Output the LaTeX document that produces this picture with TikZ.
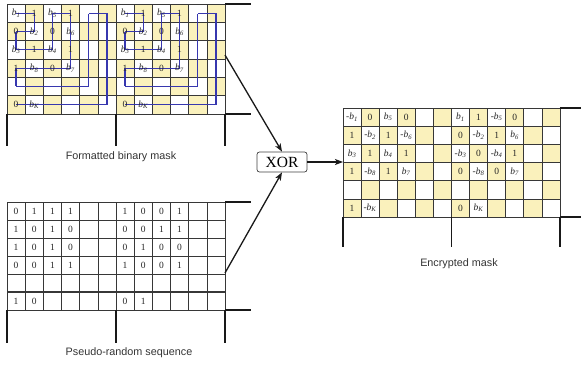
\documentclass[tikz,border=0pt]{standalone}
\usepackage{fontspec}
\setmainfont{Liberation Serif}
\newfontfamily\labelfont{Liberation Sans}
\usetikzlibrary{arrows.meta}
\definecolor{cellyellow}{RGB}{250,241,188}
\definecolor{gridcol}{RGB}{55,55,55}
\definecolor{pathblue}{RGB}{55,55,175}
\newcommand\bb[1]{\textit{b}\textsubscript{\textit{#1}}}
\newcommand\nb[1]{-\textit{b}\textsubscript{\textit{#1}}}
\tikzset{
  gridln/.style={draw=gridcol,line width=0.7pt},
  thickln/.style={draw=gridcol,line width=1.1pt},
  extln/.style={draw=black!90,line width=1.1pt,dash pattern=on 0.5pt off 0.5pt},
  cell/.style={inner sep=0pt,font=\fontsize{9.5}{11}\selectfont,text=black!85},
  bluepath/.style={draw=pathblue,line width=1.3pt,dash pattern=on 0.5pt off 0.5pt,line join=miter},
  lab/.style={inner sep=0pt,font=\labelfont\fontsize{10.8}{13}\selectfont,text=black!80},
  arr/.style={line width=1.3pt,draw=black!90,-{Stealth[length=8pt,width=6pt,inset=2pt]}},
  xorbox/.style={draw=black!75,line width=0.7pt,rounded corners=2.5pt,minimum width=50pt,minimum height=20pt,inner sep=0pt,font=\fontsize{15.5}{17}\selectfont,fill=white}
}
\begin{document}
\begin{tikzpicture}[x=1pt,y=-1pt]
\useasboundingbox (0,0) rectangle (581,367);

% ---------- Formatted binary mask ----------
\begin{scope}[xshift=7pt,yshift=-4pt,x=18.17pt,y=-18.33pt]
  \foreach \c in {0,...,11}{\foreach \r in {0,...,5}{
    \pgfmathtruncatemacro\parity{mod(\c+\r,2)}
    \ifnum\parity=1 \fill[cellyellow] (\c,\r) rectangle ++(1,1); \fi
  }}
  \foreach \c in {0,...,12} \draw[gridln] (\c,0) -- (\c,6);
  \foreach \r in {0,...,6} \draw[gridln] (0,\r) -- (12,\r);
  \foreach \c in {0,6,12} \draw[extln] (\c,6) -- (\c,7.7);
  \draw[extln] (12,0) -- (13.4,0);
  \draw[extln] (12,6) -- (13.4,6);
  \foreach \o in {0,6}{
    \draw[bluepath] (\o+0.5,0.5) -- (\o+1.5,0.5) -- (\o+1.5,1.5) -- (\o+0.5,1.5) -- (\o+0.5,2.5)
      -- (\o+2.5,2.5) -- (\o+2.5,0.5) -- (\o+3.5,0.5) -- (\o+3.5,3.5) -- (\o+0.5,3.5)
      -- (\o+0.5,4.5) -- (\o+4.5,4.5) -- (\o+4.5,0.5) -- (\o+5.5,0.5) -- (\o+5.5,5.5) -- (\o+0.5,5.5);
    \foreach \c/\r/\t in {0/0/{\bb1},1/0/1,2/0/{\bb5},3/0/1,
                          0/1/0,1/1/{\bb2},2/1/0,3/1/{\bb6},
                          0/2/{\bb3},1/2/1,2/2/{\bb4},3/2/1,
                          0/3/1,1/3/{\bb8},2/3/0,3/3/{\bb7},
                          0/5/0,1/5/{\bb{K}}}
      \node[cell] (f\o-\c-\r) at (\o+\c+0.5,\r+0.5) {\t};
  }
\end{scope}
\node[lab] (masklabel) at (121,157) {Formatted binary mask};

% ---------- Pseudo-random sequence ----------
\begin{scope}[xshift=7pt,yshift=-202pt,x=18.17pt,y=-18pt]
  \foreach \c in {0,...,12} \draw[gridln] (\c,0) -- (\c,6);
  \foreach \r in {0,1,2,3,4,6} \draw[gridln] (0,\r) -- (12,\r);
  \draw[thickln] (0,5) -- (12,5);
  \foreach \c in {0,6,12} \draw[extln] (\c,6) -- (\c,7.8);
  \draw[extln] (12,0) -- (13.4,0);
  \draw[extln] (12,6) -- (13.4,6);
  \foreach \c/\r/\t in {0/0/0,1/0/1,2/0/1,3/0/1, 6/0/1,7/0/0,8/0/0,9/0/1,
                        0/1/1,1/1/0,2/1/1,3/1/0, 6/1/0,7/1/0,8/1/1,9/1/1,
                        0/2/1,1/2/0,2/2/1,3/2/0, 6/2/0,7/2/1,8/2/0,9/2/0,
                        0/3/0,1/3/0,2/3/1,3/3/1, 6/3/1,7/3/0,8/3/0,9/3/1,
                        0/5/1,1/5/0, 6/5/0,7/5/1}
    \node[cell] (p\c-\r) at (\c+0.5,\r+0.5) {\t};
\end{scope}
\node[lab] (prslabel) at (129,353) {Pseudo-random sequence};

% ---------- Encrypted mask ----------
\begin{scope}[xshift=343pt,yshift=-108pt,x=18.08pt,y=-18.17pt]
  \foreach \c in {0,...,11}{\foreach \r in {0,...,5}{
    \pgfmathtruncatemacro\parity{mod(\c+\r,2)}
    \ifnum\parity=1 \fill[cellyellow] (\c,\r) rectangle ++(1,1); \fi
  }}
  \foreach \c in {0,...,12} \draw[gridln] (\c,0) -- (\c,6);
  \foreach \r in {0,...,6} \draw[gridln] (0,\r) -- (12,\r);
  \foreach \c in {0,6,12} \draw[extln] (\c,6) -- (\c,7.65);
  \draw[extln] (12,0) -- (13.3,0);
  \draw[extln] (12,6) -- (13.3,6);
  \foreach \c/\r/\t in {0/0/{\nb1},1/0/0,2/0/{\bb5},3/0/0,
                        0/1/1,1/1/{\nb2},2/1/1,3/1/{\nb6},
                        0/2/{\bb3},1/2/1,2/2/{\bb4},3/2/1,
                        0/3/1,1/3/{\nb8},2/3/1,3/3/{\bb7},
                        0/5/1,1/5/{\nb{K}},
                        6/0/{\bb1},7/0/1,8/0/{\nb5},9/0/0,
                        6/1/0,7/1/{\nb2},8/1/1,9/1/{\bb6},
                        6/2/{\nb3},7/2/0,8/2/{\nb4},9/2/1,
                        6/3/0,7/3/{\nb8},8/3/0,9/3/{\bb7},
                        6/5/0,7/5/{\bb{K}}}
    \node[cell] (e\c-\r) at (\c+0.5,\r+0.5) {\t};
\end{scope}
\node[lab] (enclabel) at (459,264) {Encrypted mask};

% ---------- XOR and connectors ----------
\node[xorbox] (xor) at (282,162) {XOR};
\coordinate (maskout) at (225,55);
\coordinate (prsout) at (225,273);
\coordinate (encin) at (343,162);
\draw[arr] (maskout) -- (xor.north);
\draw[arr] (prsout) -- (xor.south);
\draw[arr] (xor.east) -- (encin);
\end{tikzpicture}
\end{document}
